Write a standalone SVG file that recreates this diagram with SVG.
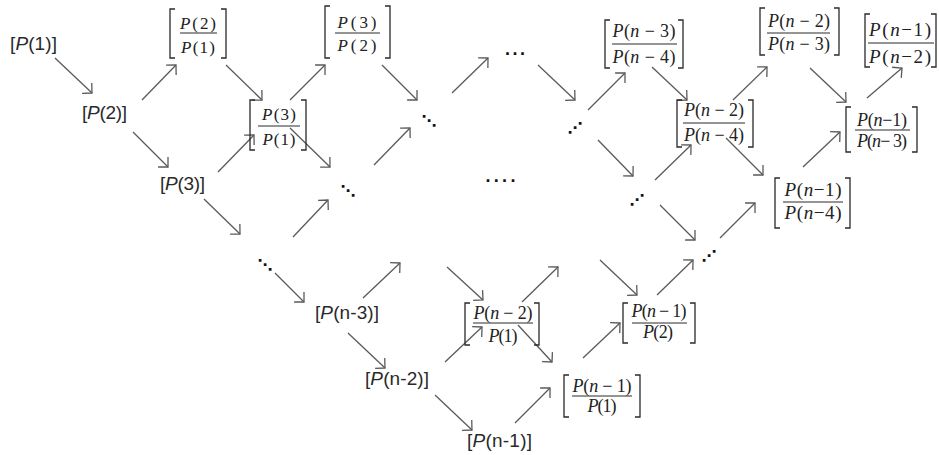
<svg xmlns="http://www.w3.org/2000/svg" width="939" height="455" viewBox="0 0 939 455">
<style>
.a{font-family:"Liberation Sans",Arial,sans-serif;font-size:19px;fill:#2a2a2a}
.t{font-family:"Liberation Serif","Times New Roman",serif;font-size:17px;fill:#222;text-anchor:middle}
.tn{font-family:"Liberation Serif","Times New Roman",serif;font-size:18px;fill:#222;text-anchor:middle}
.i{font-style:italic}
.br{fill:none;stroke:#2a2a2a;stroke-width:1.3}
.fl{stroke:#2a2a2a;stroke-width:1}
.ar{stroke:#5a5a5a;stroke-width:1.3;fill:none;marker-end:url(#h)}
.d{font-family:"DejaVu Sans",sans-serif;font-size:15px;fill:#111;text-anchor:middle;font-weight:bold}
.hd{font-family:"Liberation Sans",Arial,sans-serif;font-size:18px;font-weight:bold;fill:#111}
</style>
<defs>
<marker id="h" markerUnits="userSpaceOnUse" viewBox="-9 -9 11 18" refX="0" refY="0" markerWidth="11" markerHeight="18" orient="auto" overflow="visible">
<path d="M-7,-7 L0,0 L-7,7" fill="none" stroke="#5a5a5a" stroke-width="1.3"/>
</marker>
</defs>
<rect width="939" height="455" fill="#fff"/>
<g id="connectors">
<line class="ar" x1="55" y1="58" x2="92" y2="93"/>
<line class="ar" x1="142" y1="100" x2="176" y2="65"/>
<line class="ar" x1="226" y1="65" x2="262" y2="100"/>
<line class="ar" x1="133" y1="132" x2="168" y2="167"/>
<line class="ar" x1="218" y1="172" x2="254" y2="135"/>
<line class="ar" x1="290" y1="100" x2="325" y2="65"/>
<line class="ar" x1="382" y1="65" x2="417" y2="100"/>
<line class="ar" x1="290" y1="128" x2="330" y2="167"/>
<line class="ar" x1="204" y1="199" x2="240" y2="234"/>
<line class="ar" x1="293" y1="237" x2="328" y2="200"/>
<line class="ar" x1="374" y1="165" x2="410" y2="128"/>
<line class="ar" x1="452" y1="93" x2="488" y2="58"/>
<line class="ar" x1="538" y1="65" x2="575" y2="100"/>
<line class="ar" x1="588" y1="110" x2="625" y2="73"/>
<line class="ar" x1="652" y1="67" x2="687" y2="100"/>
<line class="ar" x1="598" y1="140" x2="633" y2="176"/>
<line class="ar" x1="655" y1="180" x2="691" y2="145"/>
<line class="ar" x1="733" y1="100" x2="767" y2="67"/>
<line class="ar" x1="726" y1="138" x2="763" y2="175"/>
<line class="ar" x1="810" y1="68" x2="846" y2="102"/>
<line class="ar" x1="867" y1="98" x2="902" y2="68"/>
<line class="ar" x1="803" y1="167" x2="840" y2="132"/>
<line class="ar" x1="720" y1="238" x2="755" y2="203"/>
<line class="ar" x1="660" y1="205" x2="695" y2="240"/>
<line class="ar" x1="600" y1="260" x2="637" y2="295"/>
<line class="ar" x1="657" y1="295" x2="693" y2="260"/>
<line class="ar" x1="447" y1="267" x2="483" y2="300"/>
<line class="ar" x1="522" y1="302" x2="558" y2="267"/>
<line class="ar" x1="363" y1="298" x2="400" y2="263"/>
<line class="ar" x1="275" y1="273" x2="304" y2="302"/>
<line class="ar" x1="348" y1="333" x2="385" y2="368"/>
<line class="ar" x1="445" y1="362" x2="482" y2="327"/>
<line class="ar" x1="518" y1="325" x2="552" y2="362"/>
<line class="ar" x1="435" y1="395" x2="472" y2="430"/>
<line class="ar" x1="515" y1="423" x2="550" y2="388"/>
<line class="ar" x1="583" y1="358" x2="620" y2="323"/>
</g>
<g id="p1"><text class="a" x="10" y="50" textLength="47">[<tspan class="i">P</tspan>(1)]</text></g>
<g id="p2"><text class="a" x="82" y="119" textLength="45">[<tspan class="i">P</tspan>(2)]</text></g>
<g id="p3"><text class="a" x="160" y="190" textLength="45">[<tspan class="i">P</tspan>(3)]</text></g>
<g id="pn3"><text class="a" x="315" y="319" textLength="64">[<tspan class="i">P</tspan>(n-3)]</text></g>
<g id="pn2"><text class="a" x="365" y="385" textLength="64">[<tspan class="i">P</tspan>(n-2)]</text></g>
<g id="pn1"><text class="a" x="467" y="447" textLength="65">[<tspan class="i">P</tspan>(n-1)]</text></g>
<g id="f21">
<path class="br" d="M175,9 H170 V58 H175 M221,9 H226 V58 H221"/>
<line class="fl" x1="180" y1="33" x2="217" y2="33"/>
<text class="t" x="198" y="29" textLength="36"><tspan class="i">P</tspan>(2)</text>
<text class="t" x="198" y="53" textLength="34"><tspan class="i">P</tspan>(1)</text>
</g>
<g id="f31">
<path class="br" d="M255,100 H250 V150 H255 M301,100 H306 V150 H301"/>
<line class="fl" x1="258" y1="126" x2="300" y2="126"/>
<text class="t" x="279" y="120" textLength="34"><tspan class="i">P</tspan>(3)</text>
<text class="t" x="279" y="145" textLength="33"><tspan class="i">P</tspan>(1)</text>
</g>
<g id="f32">
<path class="br" d="M330,6 H325 V58 H330 M385,6 H390 V58 H385"/>
<line class="fl" x1="335" y1="33" x2="380" y2="33"/>
<text class="t" x="357" y="28" textLength="39"><tspan class="i">P</tspan>(3)</text>
<text class="t" x="357" y="51" textLength="39"><tspan class="i">P</tspan>(2)</text>
</g>
<g id="fn3n4">
<path class="br" d="M610,20 H605 V68 H610 M678,20 H683 V68 H678"/>
<line class="fl" x1="612" y1="44" x2="677" y2="44"/>
<text class="tn" x="644" y="37" textLength="63"><tspan class="i">P</tspan>(<tspan class="i">n</tspan> − 3)</text>
<text class="tn" x="644" y="63" textLength="63"><tspan class="i">P</tspan>(<tspan class="i">n</tspan> − 4)</text>
</g>
<g id="fn2n3">
<path class="br" d="M765,8 H760 V55 H765 M834,8 H839 V55 H834"/>
<line class="fl" x1="767" y1="33" x2="830" y2="33"/>
<text class="tn" x="799" y="27" textLength="62"><tspan class="i">P</tspan>(<tspan class="i">n</tspan> − 2)</text>
<text class="tn" x="799" y="50" textLength="62"><tspan class="i">P</tspan>(<tspan class="i">n</tspan> − 3)</text>
</g>
<g id="fn1n2">
<path class="br" d="M870,14 H865 V67 H870 M931,14 H936 V67 H931"/>
<line class="fl" x1="868" y1="43" x2="934" y2="43"/>
<text class="tn" x="900" y="36" textLength="62" style="font-size:19px"><tspan class="i">P</tspan>(<tspan class="i">n</tspan>−1)</text>
<text class="tn" x="900" y="63" textLength="62" style="font-size:19px"><tspan class="i">P</tspan>(<tspan class="i">n</tspan>−2)</text>
</g>
<g id="fn2n4">
<path class="br" d="M682,100 H677 V147 H682 M748,100 H753 V147 H748"/>
<line class="fl" x1="683" y1="123" x2="745" y2="123"/>
<text class="tn" x="714" y="116" textLength="60"><tspan class="i">P</tspan>(<tspan class="i">n</tspan> − 2)</text>
<text class="tn" x="714" y="141" textLength="60"><tspan class="i">P</tspan>(<tspan class="i">n</tspan> − 4)</text>
</g>
<g id="fn1n3">
<path class="br" d="M851,107 H846 V152 H851 M912,107 H917 V152 H912"/>
<line class="fl" x1="855" y1="130" x2="910" y2="130"/>
<text class="tn" x="882" y="126" textLength="50"><tspan class="i">P</tspan>(<tspan class="i">n</tspan>−1)</text>
<text class="tn" x="882" y="147" textLength="50"><tspan class="i">P</tspan>(<tspan class="i">n</tspan>− 3)</text>
</g>
<g id="fn1n4">
<path class="br" d="M780,178 H775 V228 H780 M845,178 H850 V228 H845"/>
<line class="fl" x1="783" y1="202" x2="843" y2="202"/>
<text class="tn" x="813" y="196" textLength="57" style="font-size:19px"><tspan class="i">P</tspan>(<tspan class="i">n</tspan>−1)</text>
<text class="tn" x="813" y="219" textLength="57" style="font-size:19px"><tspan class="i">P</tspan>(<tspan class="i">n</tspan>−4)</text>
</g>
<g id="fn21">
<path class="br" d="M470,303 H465 V345 H470 M534,303 H539 V345 H534"/>
<line class="fl" x1="473" y1="323" x2="533" y2="323"/>
<text class="tn" x="503" y="319" textLength="59"><tspan class="i">P</tspan>(<tspan class="i">n</tspan> − 2)</text>
<text class="tn" x="503" y="342" textLength="29"><tspan class="i">P</tspan>(1)</text>
</g>
<g id="fn12">
<path class="br" d="M628,303 H623 V343 H628 M690,303 H695 V343 H690"/>
<line class="fl" x1="632" y1="323" x2="687" y2="323"/>
<text class="tn" x="659" y="317" textLength="55"><tspan class="i">P</tspan>(<tspan class="i">n</tspan> − 1)</text>
<text class="tn" x="658" y="338" textLength="30"><tspan class="i">P</tspan>(2)</text>
</g>
<g id="fn11">
<path class="br" d="M569,375 H564 V417 H569 M635,375 H640 V417 H635"/>
<line class="fl" x1="572" y1="396" x2="632" y2="396"/>
<text class="tn" x="602" y="392" textLength="59"><tspan class="i">P</tspan>(<tspan class="i">n</tspan> − 1)</text>
<text class="tn" x="602" y="412" textLength="29"><tspan class="i">P</tspan>(1)</text>
</g>
<g id="dots1"><text class="hd" x="505" y="55" letter-spacing="2.5">...</text></g>
<g id="dots2"><text class="hd" x="485.5" y="182" letter-spacing="3.3">....</text></g>
<g id="dd1"><text class="d" x="429" y="126">⋱</text></g>
<g id="dd2"><text class="d" x="348" y="196">⋱</text></g>
<g id="dd3"><text class="d" x="265" y="270">⋱</text></g>
<g id="du1"><text class="d" x="575" y="133">⋰</text></g>
<g id="du2"><text class="d" x="637" y="205">⋰</text></g>
<g id="du3"><text class="d" x="709" y="261">⋰</text></g>
</svg>
